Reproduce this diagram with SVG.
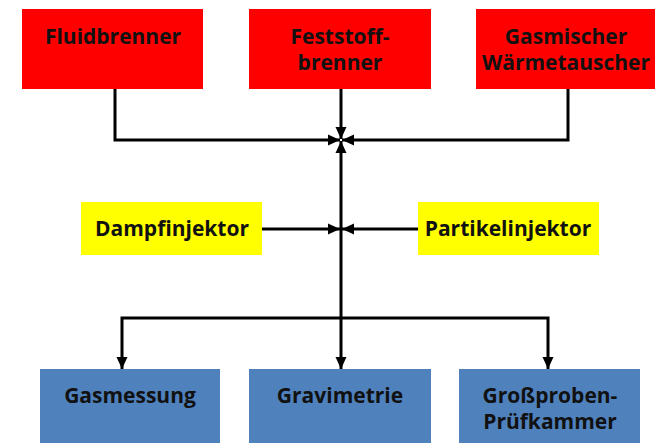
<svg xmlns="http://www.w3.org/2000/svg" width="655" height="443" viewBox="0 0 655 443">
  <defs>
    <marker id="arrow" markerUnits="userSpaceOnUse" markerWidth="13" markerHeight="13" viewBox="0 0 13 13" refX="12" refY="6.5" orient="auto">
      <path d="M0,1 L12,6.5 L0,12 Z" fill="#000"/>
    </marker>
    <style>
      .red { fill: #ff0000; }
      .yellow { fill: #ffff00; }
      .blue { fill: #4f81bd; }
      text { font-family: "Open Sans", "Liberation Sans", sans-serif; font-weight: bold; font-size: 21px; fill: #111; text-anchor: middle; }
      .conn path { fill: none; stroke: #000; stroke-width: 3; }
      .arr { marker-end: url(#arrow); }
    </style>
  </defs>
  <rect width="655" height="443" fill="#fff"/>

  <!-- connectors -->
  <g id="connectors" class="conn">
    <path class="arr" d="M115,89 V140 H340"/>
    <path class="arr" d="M341,89 V139"/>
    <path class="arr" d="M568,89 V140 H342"/>
    <path class="arr" d="M341,318 V141"/>
    <path class="arr" d="M262,229 H340"/>
    <path class="arr" d="M418,229 H342"/>
    <path class="arr" d="M341,318 V369"/>
    <path class="arr" d="M341,318 H122 V369"/>
    <path class="arr" d="M341,318 H548 V369"/>
  </g>

  <!-- burners -->
  <g id="fluidbrenner">
    <rect class="red" x="22" y="9" width="181" height="80"/>
    <text x="113" y="44">Fluidbrenner</text>
  </g>
  <g id="feststoffbrenner">
    <rect class="red" x="249" y="9" width="182" height="80"/>
    <text x="340" y="44">Feststoff-</text>
    <text x="340" y="70">brenner</text>
  </g>
  <g id="waermetauscher">
    <rect class="red" x="476" y="9" width="179" height="80"/>
    <text x="566" y="44">Gasmischer</text>
    <text x="566" y="70">Wärmetauscher</text>
  </g>

  <!-- injectors -->
  <g id="dampfinjektor">
    <rect class="yellow" x="81" y="202" width="181" height="53"/>
    <text x="172" y="236">Dampfinjektor</text>
  </g>
  <g id="partikelinjektor">
    <rect class="yellow" x="418" y="202" width="181" height="53"/>
    <text x="508" y="236">Partikelinjektor</text>
  </g>

  <!-- measurement -->
  <g id="gasmessung">
    <rect class="blue" x="40" y="369" width="180" height="80"/>
    <text x="130" y="403">Gasmessung</text>
  </g>
  <g id="gravimetrie">
    <rect class="blue" x="249" y="369" width="182" height="80"/>
    <text x="340" y="403">Gravimetrie</text>
  </g>
  <g id="pruefkammer">
    <rect class="blue" x="459" y="369" width="181" height="80"/>
    <text x="550" y="403">Großproben-</text>
    <text x="550" y="429">Prüfkammer</text>
  </g>
</svg>
